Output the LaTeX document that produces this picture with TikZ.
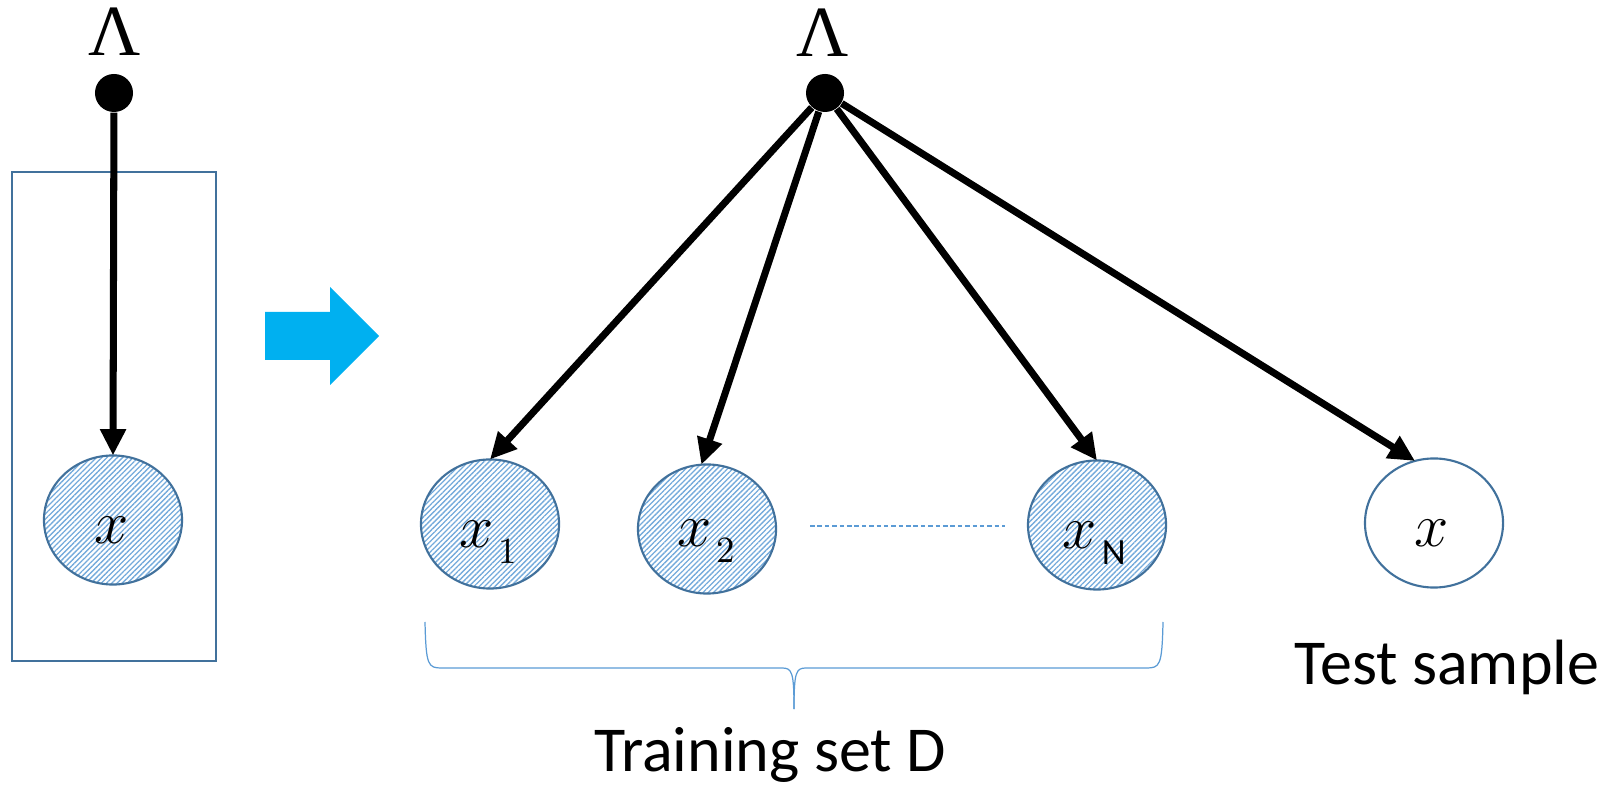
\RequirePackage{fix-cm}
\documentclass[tikz,border=0pt]{standalone}
\usepackage{fontspec}
\newfontfamily\calibri{Carlito}
\newfontfamily\greekserif{Liberation Serif}
\usetikzlibrary{arrows.meta,shapes.geometric,patterns.meta,calc}

\definecolor{edgeblue}{HTML}{41719C}
\definecolor{hatchblue}{HTML}{5B9BD5}
\definecolor{cyanarrow}{HTML}{00B0F0}

% italic variable name, optionally followed by a lowered index
\newcommand{\varx}{$x$}
\newcommand{\varlab}[1]{\varx\kern1.5pt\raisebox{-4.3pt}{\fontsize{10.5}{12}\selectfont #1}}

\tikzset{
  var/.style={ellipse, draw=edgeblue, line width=0.6pt,
    minimum width=1.38cm, minimum height=1.29cm, inner sep=0pt, outer sep=0pt},
  observed/.style={var, pattern={Lines[angle=45,distance=1.05pt,line width=0.38pt]},
    pattern color=hatchblue!85},
  param/.style={circle, fill=black, minimum size=0.38cm, inner sep=0pt},
  greek/.style={inner sep=0pt, font=\greekserif\fontsize{20.5}{24}\selectfont},
  varname/.style={inner sep=0pt, anchor=base, font=\fontsize{17.5}{21}\selectfont},
  caption/.style={inner sep=0pt, anchor=base, font=\calibri\fontsize{18.2}{22}\selectfont},
  edge/.style={line width=2pt, -{Triangle[length=7.5pt,width=7pt]}},
  plate/.style={draw=edgeblue, line width=0.5pt},
  brace/.style={draw=hatchblue, line width=0.35pt},
}

\begin{document}
\begin{tikzpicture}[x=0.01cm, y=-0.01cm]
\useasboundingbox (0,0) rectangle (1607,789);

% ---- plate notation ----
\draw[plate] (12,172) rectangle (216,661);
\node[greek] (llam) at (115,32) {Λ};
\node[param] (ldot) at (114,93) {};
\node[observed] (lx) at (113,520) {};
\node[varname] (lxlab) at (112,544) {\varx};
\draw[edge] (ldot) -- (lx.north);

% ---- unrolled arrow ----
\fill[cyanarrow] (265,312) -- (330,312) -- (330,287) -- (379,336)
  -- (330,385) -- (330,360) -- (265,360) -- cycle;

% ---- expanded model ----
\node[greek] (rlam) at (823,33) {Λ};
\node[param] (rdot) at (825,93) {};

\node[observed] (x1) at (490,524) {};
\node[observed] (x2) at (707,529) {};
\node[observed] (xN) at (1097,525) {};
\node[var] (xt) at (1434,523) {};

\node[varname] (x1lab) at (488,548) {\varlab{1}};
\node[varname] (x2lab) at (706,547) {\varlab{2}};
\node[varname] (xNlab) at (1094,549) {\varlab{\calibri N}};
\node[varname] (xtlab) at (1432,547) {\varx};

\draw[edge] (rdot) -- (x1.north);
\draw[edge] (rdot) -- (x2.95);
\draw[edge] (rdot) -- (xN.north);
\draw[edge] (rdot) -- (xt.107);

\draw[draw=hatchblue, line width=0.3pt, dash pattern=on 1.3pt off 0.8pt]
  ($(x2.east)+(34,-3)$) -- ($(xN.west)+(-23,1)$);

% ---- brace under the training set ----
\draw[brace] (425,622) .. controls (426,666) and (428,668) .. (442,668)
  -- (782,668) .. controls (792,668) and (794,672) .. (794,709);
\draw[brace] (1163,622) .. controls (1162,666) and (1160,668) .. (1146,668)
  -- (806,668) .. controls (796,668) and (794,672) .. (794,709);

\node[caption] (train) at (770,771) {Training set D};
\node[caption] (test) at (1447,684) {Test sample};
\end{tikzpicture}
\end{document}
